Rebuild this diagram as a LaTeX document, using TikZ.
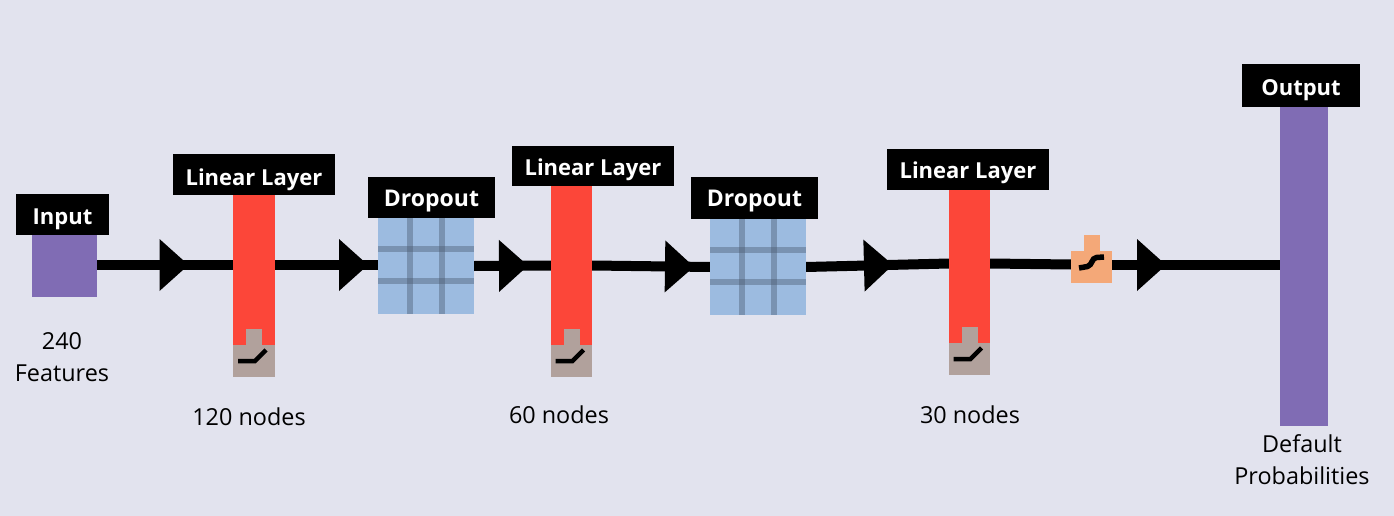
\documentclass[tikz,border=0pt]{standalone}
\usepackage{fontspec}
\setmainfont{Open Sans}
\usetikzlibrary{decorations.markings,backgrounds}
\definecolor{bgc}{HTML}{E2E3EE}
\definecolor{purp}{HTML}{806CB4}
\definecolor{redc}{HTML}{FC4639}
\definecolor{grayc}{HTML}{B1A19C}
\definecolor{bluec}{HTML}{9CBBE0}
\definecolor{gridc}{HTML}{4A5A70}
\definecolor{orangec}{HTML}{F4A878}
\tikzset{
  block/.style={inner sep=0pt,outer sep=0pt,draw=none},
  sized/.style 2 args={minimum width=#1pt,minimum height=#2pt},
  tagbox/.style={block,fill=black,text=white,text height=22pt,text depth=1pt,font=\fontsize{22}{26}\selectfont\bfseries},
  droptag/.style={tagbox,text height=18pt,font=\fontsize{23}{26}\selectfont\bfseries},
  captext/.style={inner sep=0pt,outer sep=0pt,align=center,text=black,font=\fontsize{23.4}{31.5}\selectfont},
  wire/.style={line width=10pt,draw=black},
  headat/.style={postaction={decorate},decoration={markings,mark=at position #1pt with {\fill[black] (-28,-26) -- (1,0) -- (-28,26) -- cycle;}}},
  iconline/.style={line width=4.5pt,draw=black},
  gridline/.style={line width=6pt,draw=gridc,draw opacity=.42}
}
\newcommand{\relubox}[1]{\draw[iconline] ([shift={(-16,0)}]#1.center) -- ([shift={(1,0)}]#1.center) -- ([shift={(12,-11)}]#1.center);}
\newcommand{\gridbox}[1]{
  \draw[gridline] ([xshift=-16pt]#1.north) -- ([xshift=-16pt]#1.south);
  \draw[gridline] ([xshift=16pt]#1.north) -- ([xshift=16pt]#1.south);
  \draw[gridline] ([yshift=17pt]#1.west) -- ([yshift=17pt]#1.east);
  \draw[gridline] ([yshift=-15pt]#1.west) -- ([yshift=-15pt]#1.east);
}
\begin{document}
\begin{tikzpicture}[x=1pt,y=-1pt]
\useasboundingbox (0,0) rectangle (1394,516);
\begin{scope}[on background layer]
  \fill[bgc] (0,0) rectangle (1394,516);
\end{scope}

% blocks
\node[block,fill=purp,sized={65}{62}] (input) at (64.5,266) {};
\node[block,fill=redc,sized={42}{150}] (lina) at (254,270) {};
\node[block,fill=grayc,sized={42}{32}] (acta) at (254,361) {};
\node[block,fill=grayc,sized={16}{17}] (nota) at (254,337.5) {};
\node[block,fill=bluec,sized={96}{96}] (dropa) at (426,266) {};
\node[block,fill=redc,sized={41}{159}] (linb) at (571.5,265.5) {};
\node[block,fill=grayc,sized={41}{32}] (actb) at (571.5,361) {};
\node[block,fill=grayc,sized={16}{17}] (notb) at (571.5,337.5) {};
\node[block,fill=bluec,sized={96}{96}] (dropb) at (758,267) {};
\node[block,fill=redc,sized={41}{153}] (linc) at (969.5,266.5) {};
\node[block,fill=grayc,sized={41}{32}] (actc) at (969.5,359) {};
\node[block,fill=grayc,sized={16}{17}] (notc) at (969.5,335.5) {};
\node[block,fill=orangec,sized={41}{32}] (sig) at (1091.5,267) {};
\node[block,fill=orangec,sized={16}{17}] (signot) at (1092,243.5) {};
\node[block,fill=purp,sized={48}{319}] (output) at (1304,266.5) {};

% connectors
\begin{scope}[on background layer]
  \draw[wire,headat=90.5] ([yshift=1pt]input.east) -- ([yshift=5pt]lina.west);
  \draw[wire,headat=92] ([yshift=5pt]lina.east) -- ([yshift=1pt]dropa.west);
  \draw[wire,headat=53] (dropa.east) -- (linb.west);
  \draw[wire,headat=101] (linb.east) -- (dropb.west);
  \draw[wire,headat=86] (dropb.east) -- ([yshift=3pt]linc.west);
  \draw[wire] ([yshift=3pt]linc.east) -- ([yshift=2.5pt]sig.west);
  \draw[wire,headat=53] ([yshift=2pt]sig.east) -- ([yshift=1.5pt]output.west);
\end{scope}

% icons
\relubox{acta}
\relubox{actb}
\relubox{actc}
\gridbox{dropa}
\gridbox{dropb}
\draw[line width=5.5pt,draw=black] ([shift={(-12.5,1)}]sig.center) -- ([shift={(-4,-0.5)}]sig.center) .. controls ([shift={(1,-2)}]sig.center) and ([shift={(0,-9)}]sig.center) .. ([shift={(5,-9.5)}]sig.center) -- ([shift={(12.5,-10)}]sig.center);

% tags
\node[tagbox,text height=20pt,sized={93}{41}] (tinput) at (62.5,214.5) {Input};
\node[tagbox,sized={162}{41}] (tlina) at (254,174.5) {Linear Layer};
\node[droptag,sized={127}{41}] (tdropa) at (431.5,197.5) {Dropout};
\node[tagbox,text height=20pt,sized={162}{40}] (tlinb) at (593,166) {Linear Layer};
\node[droptag,sized={127}{42}] (tdropb) at (754.5,198) {Dropout};
\node[tagbox,text height=19pt,sized={162}{41}] (tlinc) at (968,169.5) {Linear Layer};
\node[tagbox,sized={118}{43}] (toutput) at (1301,85.5) {Output};

% captions
\node[captext] (cinput) at (62,357) {240\\Features};
\node[captext] (clina) at (249,417) {120 nodes};
\node[captext] (clinb) at (559,415) {60 nodes};
\node[captext] (clinc) at (970,415) {30 nodes};
\node[captext] (coutput) at (1302,459.5) {Default\\Probabilities};
\end{tikzpicture}
\end{document}
